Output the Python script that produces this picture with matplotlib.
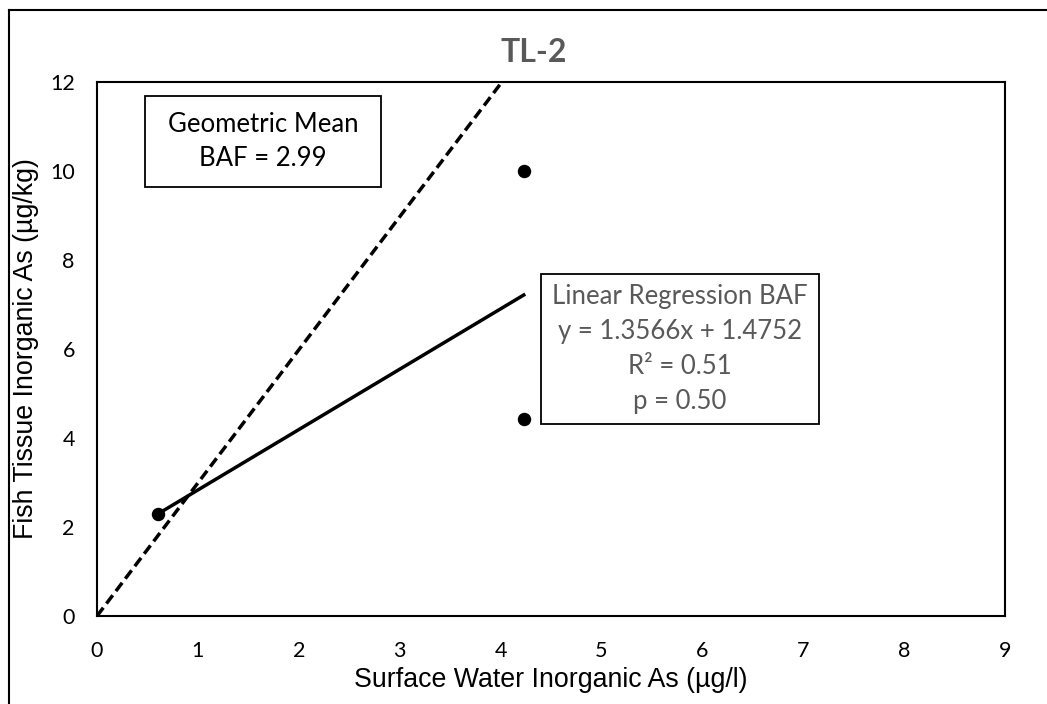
import numpy as np
import matplotlib
matplotlib.use("Agg")
import matplotlib.pyplot as plt
from matplotlib.patches import Rectangle
from matplotlib.lines import Line2D

# data
water = [0.60, 4.23, 4.23]      # surface water inorganic As (ug/l)
tissue = [2.30, 10.00, 4.42]    # fish tissue inorganic As (ug/kg)
slope = 1.3566
intercept = 1.4752
r2 = 0.51
pval = 0.50
geo_baf = 2.99

x_ticks = np.arange(0, 10, 1)
y_ticks = np.arange(0, 14, 2)

W, H = 1047, 704
fig = plt.figure(figsize=(W / 100, H / 100), dpi=100)
ax = fig.add_axes([97 / W, 1 - 616 / H, (1005 - 97) / W, (616 - 82) / H])

body = "Lato"
gray = "#595959"

# geometric mean line through origin (dashed)
gx = np.array([0, 9])
ax.plot(gx, geo_baf * gx, color="black", lw=2.5, ls=(0, (3, 1.5)), zorder=3)

# regression line over the data range
rx = np.array([min(water), max(water)])
ax.plot(rx, slope * rx + intercept, color="black", lw=2.5, zorder=3)

ax.scatter(water, tissue, s=75, color="black", zorder=4)

ax.set_xlim(0, 9)
ax.set_ylim(0, 12)
ax.set_xticks(x_ticks)
ax.set_yticks(y_ticks)
ax.tick_params(length=0, labelsize=15.5)
ax.tick_params(axis="x", pad=18)
ax.tick_params(axis="y", pad=16)
for lab in ax.get_xticklabels() + ax.get_yticklabels():
    lab.set_fontfamily(body)
for s in ax.spines.values():
    s.set_linewidth(1.5)
    s.set_color("black")

ax.set_xlabel("Surface Water Inorganic As (µg/l)", fontfamily="Liberation Sans",
              fontsize=19.3, labelpad=4)
ax.set_ylabel("Fish Tissue Inorganic As (µg/kg)", fontfamily="Liberation Sans",
              fontsize=19.3, labelpad=8)

fig.text(534 / W, 1 - 52 / H, "TL-2", fontfamily=body, fontweight="bold",
         fontsize=23, color=gray, ha="center", va="center")


def px(xp, yp):
    return (xp - 97) / (1005 - 97) * 9, (616 - yp) / (616 - 82) * 12


# geometric mean box
x0, y1 = px(145, 96)
x1, y0 = px(381, 187)
ax.add_patch(Rectangle((x0, y0), x1 - x0, y1 - y0, facecolor="white",
                       edgecolor="black", lw=1.3, zorder=5))
ax.text((x0 + x1) / 2, (y0 + y1) / 2, "Geometric Mean\nBAF = %.2f" % geo_baf,
        fontfamily=body, fontsize=18.5, color="black", ha="center",
        va="center", linespacing=1.5, zorder=6)

# regression box
x0, y1 = px(541, 274)
x1, y0 = px(819, 424)
ax.add_patch(Rectangle((x0, y0), x1 - x0, y1 - y0, facecolor="white",
                       edgecolor="black", lw=1.3, zorder=5))
reg_txt = "Linear Regression BAF\ny = %.4fx + %.4f\nR² = %.2f\np = %.2f" % (
    slope, intercept, r2, pval)
ax.text((x0 + x1) / 2, (y0 + y1) / 2, reg_txt, fontfamily=body, fontsize=18.5,
        color=gray, ha="center", va="center", linespacing=1.5, zorder=6)

# outer frame of the chart area (cut off at right and bottom)
fig.add_artist(Line2D([9 / W, 9 / W], [0, 1 - 10 / H], color="black", lw=1.5,
                      transform=fig.transFigure))
fig.add_artist(Line2D([9 / W, 1], [1 - 10 / H, 1 - 10 / H], color="black",
                      lw=1.5, transform=fig.transFigure))

fig.savefig("out.png", dpi=100)
